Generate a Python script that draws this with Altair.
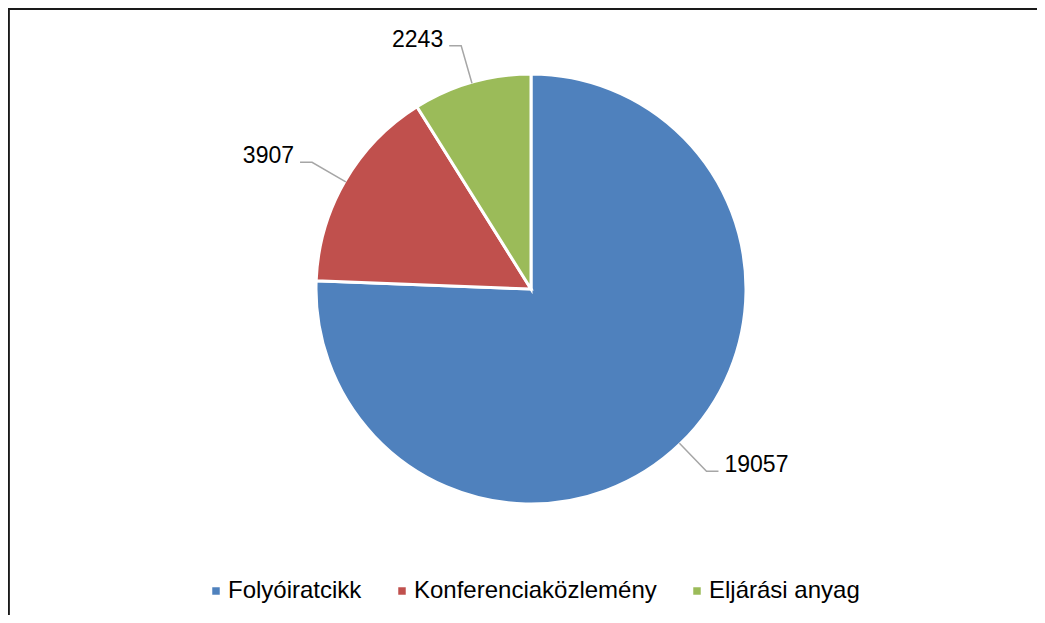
import math
import altair as alt
import pandas as pd

# ---- data ----
categories = ["Folyóiratcikk", "Konferenciaközlemény", "Eljárási anyag"]
values = [19057, 3907, 2243]
colors = ["#4F81BD", "#C0504D", "#9BBB59"]

# ---- layout constants (chart coordinates) ----
W, H = 1029, 607
CX, CY, R = 523, 281, 215
ELBOW = 38
HSEG = 12
GAP = 6
FONT = "Liberation Sans"

pie_df = pd.DataFrame({"cat": categories, "value": values, "idx": list(range(len(values)))})

# leader lines and label anchors derived from the values
total = float(sum(values))
rows_line, rows_text = [], []
start = 0.0
for c, v in zip(categories, values):
    end = start + v / total * 2 * math.pi
    m = (start + end) / 2
    s, co = math.sin(m), math.cos(m)
    side = 1 if s >= 0 else -1
    p0 = (CX + (R - 1) * s, CY - (R - 1) * co)
    p1 = (CX + (R + ELBOW) * s, CY - (R + ELBOW) * co)
    p2 = (p1[0] + side * HSEG, p1[1])
    for k, p in enumerate([p0, p1, p2]):
        rows_line.append({"cat": c, "pt": k, "x": p[0], "y": p[1]})
    rows_text.append({"cat": c, "label": str(v), "x": p2[0] + side * GAP, "y": p2[1] + 1,
                      "side": "left" if side > 0 else "right"})
    start = end

line_df = pd.DataFrame(rows_line)
text_df = pd.DataFrame(rows_text)

pie = alt.Chart(pie_df).mark_arc(radius=R, stroke="white", strokeWidth=3).encode(
    theta=alt.Theta("value:Q", stack=True),
    order=alt.Order("idx:Q"),
    x=alt.value(CX),
    y=alt.value(CY),
    color=alt.Color(
        "cat:N",
        scale=alt.Scale(domain=categories, range=colors),
        legend=alt.Legend(
            orient="none", legendX=196, legendY=571, direction="horizontal",
            title=None, symbolType="square", symbolSize=56, symbolStrokeWidth=0,
            labelFontSize=24, labelFont=FONT, labelColor="#000000",
            columnPadding=28, labelOffset=0, padding=0, labelLimit=500,
        ),
    ),
)

leaders = alt.Chart(line_df).mark_line(color="#A6A6A6", strokeWidth=1.5).encode(
    x=alt.X("x:Q", scale=None),
    y=alt.Y("y:Q", scale=None),
    detail="cat:N",
    order="pt:Q",
)

labels_left = alt.Chart(text_df).transform_filter(alt.datum.side == "left").mark_text(
    align="left", baseline="alphabetic", font=FONT, fontSize=23, color="#000000"
).encode(x=alt.X("x:Q", scale=None), y=alt.Y("y:Q", scale=None), text="label:N")

labels_right = alt.Chart(text_df).transform_filter(alt.datum.side == "right").mark_text(
    align="right", baseline="alphabetic", font=FONT, fontSize=23, color="#000000"
).encode(x=alt.X("x:Q", scale=None), y=alt.Y("y:Q", scale=None), text="label:N")

top_border = alt.Chart(pie_df).mark_rule(color="#1a1a1a", strokeWidth=2).encode(
    x=alt.value(0), x2=alt.value(W), y=alt.value(1)
)
left_border = alt.Chart(pie_df).mark_rule(color="#1a1a1a", strokeWidth=2).encode(
    x=alt.value(0.5), y=alt.value(0), y2=alt.value(H)
)

chart = alt.layer(pie, leaders, labels_left, labels_right, top_border, left_border).properties(
    width=W, height=H, padding=0, autosize=alt.AutoSizeParams(type="none"),
    background="white",
).configure_view(stroke=None)

chart.save("out.html", embed_options={"renderer": "svg", "actions": False})
